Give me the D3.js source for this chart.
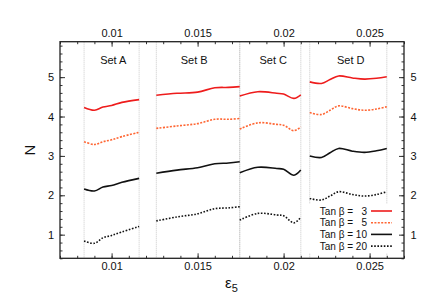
<!DOCTYPE html>
<html>
<head>
<meta charset="utf-8">
<script src="https://cdn.jsdelivr.net/npm/d3@7"></script>
<style>
  body { margin: 0; background: #fff; }
  text { font-family: "Liberation Sans", Arial, sans-serif; fill: #111; }
</style>
</head>
<body>
<svg id="chart" width="428" height="300"></svg>
<script>
// data
const setNames = ["Set A", "Set B", "Set C", "Set D"];
const setLabelX = [0.0101, 0.0148, 0.0194, 0.0239];
const setBounds = [[0.0084, 0.0116], [0.0126, 0.01745], [0.01745, 0.0210], [0.02152, 0.0260]];

const xA = [0.0084, 0.0090, 0.0095, 0.0100, 0.0106, 0.0116];
const xB = [0.0126, 0.0138, 0.0150, 0.0160, 0.0168, 0.01745];
const xC = [0.01745, 0.0185, 0.0196, 0.0200, 0.0206, 0.0210];
const xD = [0.02152, 0.0222, 0.0227, 0.0232, 0.0240, 0.0247, 0.0254, 0.0260];

const tb3 = [
  [4.23, 4.16, 4.24, 4.28, 4.36, 4.43],
  [4.54, 4.59, 4.62, 4.73, 4.74, 4.76],
  [4.52, 4.63, 4.59, 4.57, 4.46, 4.55],
  [4.88, 4.84, 4.94, 5.03, 4.98, 4.95, 4.97, 5.01]
];
const tb5 = [
  [3.36, 3.29, 3.36, 3.41, 3.49, 3.60],
  [3.70, 3.76, 3.82, 3.93, 3.93, 3.95],
  [3.68, 3.84, 3.80, 3.78, 3.64, 3.74],
  [4.10, 4.05, 4.16, 4.27, 4.20, 4.16, 4.19, 4.25]
];
const tb10 = [
  [2.16, 2.11, 2.21, 2.25, 2.33, 2.43],
  [2.56, 2.64, 2.70, 2.80, 2.82, 2.85],
  [2.57, 2.71, 2.68, 2.66, 2.51, 2.64],
  [3.00, 2.96, 3.08, 3.19, 3.12, 3.09, 3.13, 3.19]
];
const tb20 = [
  [0.84, 0.78, 0.92, 0.98, 1.07, 1.21],
  [1.35, 1.45, 1.53, 1.66, 1.68, 1.71],
  [1.37, 1.54, 1.50, 1.48, 1.30, 1.44],
  [1.92, 1.88, 1.98, 2.09, 2.02, 1.98, 2.02, 2.09]
];
const setX = [xA, xB, xC, xD];

const legendLabels = ["Tan \u03b2 =   3", "Tan \u03b2 =   5", "Tan \u03b2 = 10", "Tan \u03b2 = 20"];
const series = [
  { vals: tb3, color: "#ee1c1c", dash: null },
  { vals: tb5, color: "#ff6633", dash: "2,1.4" },
  { vals: tb10, color: "#111", dash: null },
  { vals: tb20, color: "#111", dash: "1.6,1.6" }
];

const svg = d3.select("#chart");
const mLeft = 60, mRight = 404, mTop = 41.7, mBottom = 258.3;

const x = d3.scaleLinear().domain([0.007, 0.027]).range([mLeft, mRight]);
const y = d3.scaleLinear().domain([0.4, 5.9]).range([mBottom, mTop]);

const majorX = [0.01, 0.015, 0.02, 0.025];
const minorX = d3.range(7, 28).map(d => d / 1000);
const majorY = [1, 2, 3, 4, 5];
const minorY = d3.range(2, 30).map(d => d / 5);

// set edges
const edges = setBounds.flat();
svg.selectAll("line.edge").data(edges)
  .join("line")
  .attr("class", "edge")
  .attr("x1", d => x(d)).attr("x2", d => x(d))
  .attr("y1", mTop).attr("y2", mBottom)
  .attr("stroke", "#bbb")
  .attr("stroke-width", 0.8)
  .attr("stroke-dasharray", "1,1");

function addAxis(axis, tr, cls) {
  const g = svg.append("g").attr("class", cls).attr("transform", tr).call(axis);
  g.select(".domain").remove();
  g.selectAll("line").attr("stroke", "#333");
  g.selectAll("text").style("font-size", "11px").attr("fill", "#111");
  return g;
}
// minor ticks
addAxis(d3.axisBottom(x).tickValues(minorX).tickSize(-2.5).tickFormat(""), `translate(0,${mBottom})`, "mx");
addAxis(d3.axisTop(x).tickValues(minorX).tickSize(-2.5).tickFormat(""), `translate(0,${mTop})`, "mx");
addAxis(d3.axisLeft(y).tickValues(minorY).tickSize(-2.5).tickFormat(""), `translate(${mLeft},0)`, "my");
addAxis(d3.axisRight(y).tickValues(minorY).tickSize(-2.5).tickFormat(""), `translate(${mRight},0)`, "my");

// major ticks + labels
const fmt = d3.format("");
addAxis(d3.axisBottom(x).tickValues(majorX).tickSize(-5).tickPadding(4).tickFormat(fmt), `translate(0,${mBottom})`, "xb");
addAxis(d3.axisTop(x).tickValues(majorX).tickSize(-5).tickPadding(5).tickFormat(fmt), `translate(0,${mTop})`, "xt");
addAxis(d3.axisLeft(y).tickValues(majorY).tickSize(-5).tickPadding(6).tickFormat(fmt), `translate(${mLeft},0)`, "yl");
addAxis(d3.axisRight(y).tickValues(majorY).tickSize(-5).tickPadding(6.5).tickFormat(fmt), `translate(${mRight},0)`, "yr");

// frame
svg.append("rect")
  .attr("x", mLeft).attr("y", mTop)
  .attr("width", mRight - mLeft).attr("height", mBottom - mTop)
  .attr("fill", "none").attr("stroke", "#222").attr("stroke-width", 1.3);

// set labels
svg.selectAll("text.setname").data(setNames)
  .join("text")
  .attr("class", "setname")
  .attr("x", (d, i) => x(setLabelX[i]))
  .attr("y", 64)
  .attr("text-anchor", "middle")
  .style("font-size", "11px")
  .text(d => d);

// curves
const line = d3.line()
  .x(d => x(d[0]))
  .y(d => y(d[1]))
  .curve(d3.curveCatmullRom.alpha(0.5));

series.forEach(s => {
  s.vals.forEach((vals, i) => {
    const pts = setX[i].map((xv, j) => [xv, vals[j]]);
    svg.append("path").datum(pts)
      .attr("d", line)
      .attr("fill", "none")
      .attr("stroke", s.color)
      .attr("stroke-width", 1.6)
      .attr("stroke-dasharray", s.dash);
  });
});

// legend
const legend = svg.append("g");
const rowH = 11.7, row0 = 211;
legend.append("rect")
  .attr("x", 308).attr("y", 204).attr("width", 88).attr("height", 49)
  .attr("fill", "#fff");
legendLabels.forEach((lab, i) => {
  const cy = row0 + i * rowH;
  legend.append("text")
    .attr("x", 367).attr("y", cy + 3.6)
    .attr("text-anchor", "end")
    .style("font-size", "10px")
    .style("white-space", "pre")
    .text(lab);
  legend.append("line")
    .attr("x1", 371).attr("x2", 392)
    .attr("y1", cy).attr("y2", cy)
    .attr("stroke", series[i].color)
    .attr("stroke-width", 1.6)
    .attr("stroke-dasharray", series[i].dash);
});

// axis titles
svg.append("text")
  .attr("transform", "translate(35,150) rotate(-90)")
  .attr("text-anchor", "middle")
  .style("font-size", "15px")
  .text("N");

const xt = svg.append("text")
  .attr("x", 225).attr("y", 288)
  .style("font-size", "15px");
xt.append("tspan").text("\u03b5");
xt.append("tspan").attr("dy", 4).style("font-size", "11px").text("5");
</script>
</body>
</html>
